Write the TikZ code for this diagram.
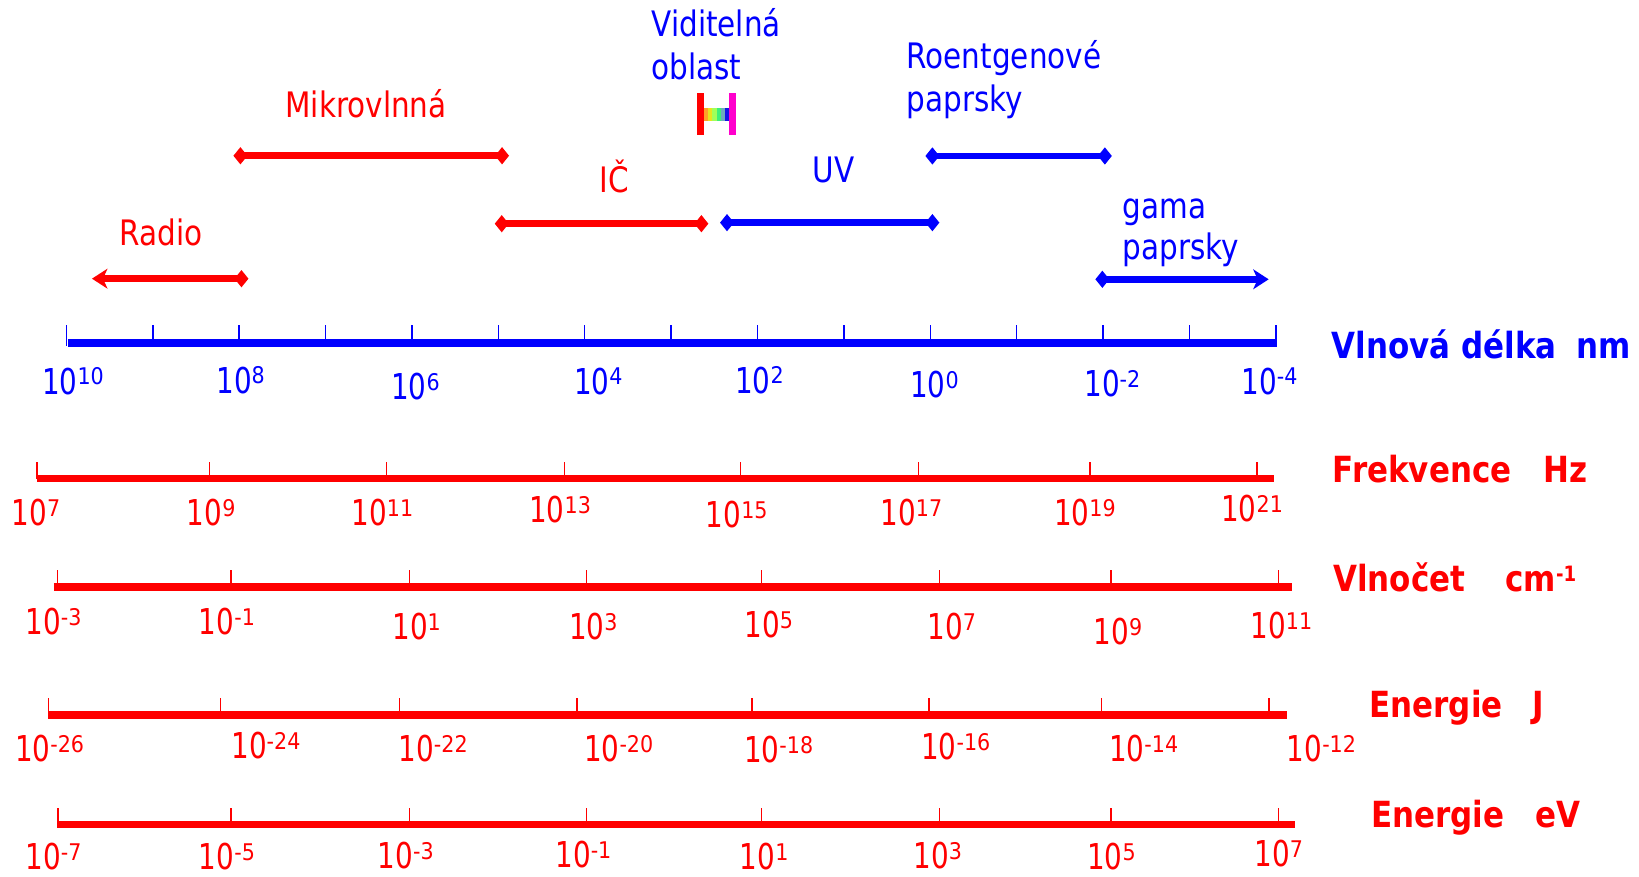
\documentclass[tikz,border=0pt]{standalone}
\usepackage{fontspec}
\setmainfont{DejaVu Sans}[FakeStretch=0.84]
\newfontfamily\numfont{DejaVu Sans}[FakeStretch=0.78]
\newfontfamily\expfont{DejaVu Sans}[FakeStretch=0.9]
\newfontfamily\ttlfont{DejaVu Sans}[FakeStretch=0.86]
\usetikzlibrary{arrows.meta}
\definecolor{cred}{RGB}{255,0,0}
\definecolor{cblue}{RGB}{0,0,255}
\definecolor{cmag}{RGB}{255,0,204}
\newcommand\tpow[1]{{\numfont\fontsize{19.4}{20}\selectfont 10}\raisebox{5pt}{\expfont\fontsize{12.5}{13}\selectfont #1}}
\begin{document}
\begin{tikzpicture}[x=0.02cm, y=-0.02cm,
  lab/.style={font=\fontsize{19.1}{23}\selectfont, inner sep=0pt, anchor=base west},
  num/.style={inner sep=0pt, anchor=base west},
  ttl/.style={font=\ttlfont\bfseries\fontsize{19.6}{22}\selectfont, inner sep=0pt, anchor=base west},
  axline/.style={line width=4pt},
  tk/.style={line width=0.8pt},
  dmd/.tip={Diamond[length=7.6pt,width=9.4pt,line width=0pt]},
  brb/.tip={Stealth[length=8.5pt,width=11pt,inset=2.5pt,line width=0pt]},
  rng/.style={line width=3.6pt, dmd-dmd, shorten <=-3.8pt, shorten >=-3.8pt},
]
\useasboundingbox (0,0) rectangle (1568,839);

% ---- top labels
\node[lab, cblue] (vis1) at (623,35) {Viditelná};
\node[lab, cblue] (vis2) at (623,76.5) {oblast};
\node[lab, cred] (mikro) at (272.7,112) {Mikrovlnná};
\node[lab, cred] (ic) at (573,184) {IČ};
\node[lab, cred] (radio) at (114,235) {Radio};
\node[lab, cblue] (uv) at (777,174.7) {UV};
\node[lab, cblue] (rtg1) at (867,66) {Roentgenové};
\node[lab, cblue] (rtg2) at (867,106.8) {paprsky};
\node[lab, cblue] (gam1) at (1073.7,208.9) {gama};
\node[lab, cblue] (gam2) at (1073.7,248.7) {paprsky};

% ---- visible bar
\fill[cred] (667,89) rectangle (673.5,129);
\fill[cmag] (697.5,89) rectangle (704,129);
\foreach \c [count=\i from 0] in {{255,160,40},{230,230,30},{160,255,90},{60,240,120},{110,170,190},{20,20,230}} {
  \definecolor{tmpc}{RGB}{\c}
  \fill[tmpc] ({673.5+4*\i},103) rectangle ({677.5+4*\i},116);
}

% ---- range arrows
\coordinate (mw1) at (230,149);   \coordinate (mw2) at (480.3,149);
\coordinate (ir1) at (480,214);   \coordinate (ir2) at (671,214);
\coordinate (rd1) at (88,266.6);  \coordinate (rd2) at (231,266.6);
\coordinate (uv1) at (695.5,213); \coordinate (uv2) at (892,213);
\coordinate (rg1) at (892,149.2); \coordinate (rg2) at (1057,149.2);
\coordinate (gm1) at (1054.6,267.2); \coordinate (gm2) at (1213.7,267.2);
\draw[rng, cred] (mw1) -- (mw2);
\draw[rng, cred] (ir1) -- (ir2);
\draw[cred, line width=3.6pt, brb-dmd, shorten >=-3.8pt] (rd1) -- (rd2);
\draw[rng, cblue] (uv1) -- (uv2);
\draw[rng, cblue] (rg1) -- (rg2);
\draw[cblue, line width=3.6pt, dmd-brb, shorten <=-3.8pt] (gm1) -- (gm2);

% ---- wavelength axis (blue)
\draw[axline, cblue] (65,328) -- (1222,328);
\foreach \i in {0,...,14} \draw[cblue, tk] ({63.5+82.65*\i},331) -- ++(0,-20);
\foreach \x/\y/\t [count=\k] in {40/377/10, 206.6/376/8, 374/382/6, 548.9/377/4, 703/376/2, 870.5/380.5/0, 1037/379.5/-2, 1187.4/377/-4}
  \node[num, cblue] (b\k) at (\x,\y) {\tpow{\t}};
\node[ttl, cblue] (t1) at (1273.8,342.8) {Vlnová délka};
\node[ttl, cblue] (t1u) at (1507.5,342.8) {nm};

% ---- frequency axis
\draw[axline, cred] (35,458) -- (1219,458);
\foreach \x in {35.5,200.6,370,540,708.5,878.5,1042.7,1202.7} \draw[cred, tk] (\x,458) -- ++(0,-16);
\foreach \x/\y/\t [count=\k] in {11/503/7, 178.5/503/9, 336/503/11, 506/500/13, 675/504.5/15, 842/502.6/17, 1008/502.6/19, 1168/499/21}
  \node[num, cred] (f\k) at (\x,\y) {\tpow{\t}};
\node[ttl, cred] (t2) at (1274.8,461.5) {Frekvence};
\node[ttl, cred] (t2u) at (1476.5,461.5) {Hz};

% ---- wavenumber axis
\draw[axline, cred] (51.5,561.5) -- (1236,561.5);
\foreach \x in {55,221,392,561,728.5,899,1063,1223} \draw[cred, tk] (\x,561.5) -- ++(0,-16);
\foreach \x/\y/\t [count=\k] in {24/607/-3, 190/607/-1, 375/611.6/1, 544/612/3, 712/609.6/5, 887/612/7, 1046/616.4/9, 1196/610.7/11}
  \node[num, cred] (w\k) at (\x,\y) {\tpow{\t}};
\node[ttl, cred] (t3) at (1275,566) {Vlnočet};
\node[ttl, cred] (t3u) at (1440,566) {cm\raisebox{5.4pt}{\fontsize{11.5}{12}\selectfont -1}};

% ---- energy J axis
\draw[axline, cred] (46,684) -- (1231,684);
\foreach \x in {46.5,211,382,552,719.5,888.6,1054,1214} \draw[cred, tk] (\x,684) -- ++(0,-16);
\foreach \x/\y/\t [count=\k] in {14/728.7/-26, 221/725.5/-24, 381/728.7/-22, 558.5/728.7/-20, 711.5/729.6/-18, 881/727/-16, 1060.7/728.7/-14, 1230.8/728.7/-12}
  \node[num, cred] (j\k) at (\x,\y) {\tpow{\t}};
\node[ttl, cred] (t4) at (1309.8,686.6) {Energie};
\node[ttl, cred] (t4u) at (1466,686.6) {J};

% ---- energy eV axis
\draw[axline, cred] (55,789) -- (1239,789);
\foreach \x in {55.5,221,392,561,728.5,899,1063,1223} \draw[cred, tk] (\x,789) -- ++(0,-16);
\foreach \x/\y/\t [count=\k] in {24/832/-7, 190/832/-5, 361/831/-3, 531/830/-1, 707.5/832/1, 873.6/831/3, 1039.7/832/5, 1199.8/829/7}
  \node[num, cred] (e\k) at (\x,\y) {\tpow{\t}};
\node[ttl, cred] (t5) at (1311.4,791.5) {Energie};
\node[ttl, cred] (t5u) at (1468.5,791.5) {eV};
\end{tikzpicture}
\end{document}
